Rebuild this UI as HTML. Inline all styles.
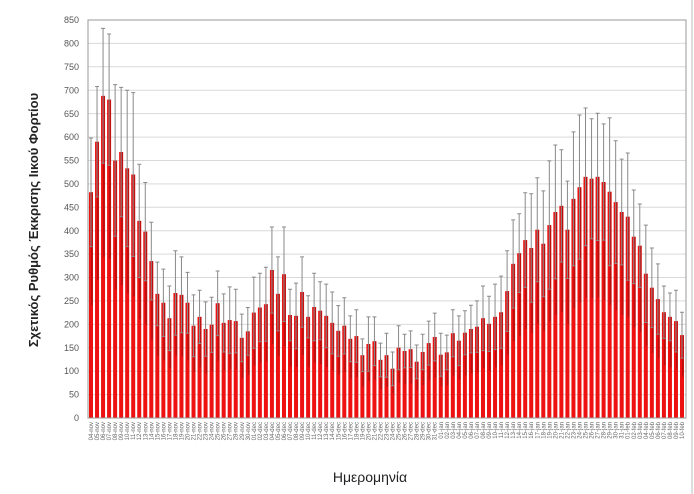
<!DOCTYPE html>
<html><head><meta charset="utf-8"><style>
html,body{margin:0;padding:0;background:#fff;}
svg{display:block;font-family:"Liberation Sans",sans-serif;}
</style></head><body>
<svg id="s" width="694" height="494" viewBox="0 0 694 494">
<rect width="694" height="494" fill="#fff"/>
<line x1="692" y1="0" x2="692" y2="494" stroke="#bbb" stroke-width="1"/>
<g id="grid" stroke="#d9d9d9" stroke-width="1"></g>
<g id="yl" font-size="9" fill="#555" text-anchor="end">
<text x="79" y="421">0</text><text x="79" y="397.6">50</text><text x="79" y="374.2">100</text><text x="79" y="350.8">150</text><text x="79" y="327.4">200</text><text x="79" y="304">250</text><text x="79" y="280.6">300</text><text x="79" y="257.2">350</text><text x="79" y="233.8">400</text><text x="79" y="210.4">450</text><text x="79" y="187">500</text><text x="79" y="163.6">550</text><text x="79" y="140.2">600</text><text x="79" y="116.8">650</text><text x="79" y="93.4">700</text><text x="79" y="70">750</text><text x="79" y="46.6">800</text><text x="79" y="23.2">850</text>
</g>
<path id="bars" fill="#ee1111"/>
<path id="bars2" fill="#b80f0f"/>
<path id="err" stroke="#8a8a8a" stroke-width="1" fill="none"/>
<rect x="88" y="20" width="598" height="398" fill="none" stroke="#999" stroke-width="1"/>
<g id="xl" font-size="6" fill="#666" text-anchor="end">
<text>04-nov</text><text>05-nov</text><text>06-nov</text><text>07-nov</text><text>08-nov</text><text>09-nov</text><text>10-nov</text><text>11-nov</text><text>12-nov</text><text>13-nov</text><text>14-nov</text><text>15-nov</text><text>16-nov</text><text>17-nov</text><text>18-nov</text><text>19-nov</text><text>20-nov</text><text>21-nov</text><text>22-nov</text><text>23-nov</text><text>24-nov</text><text>25-nov</text><text>26-nov</text><text>27-nov</text><text>28-nov</text><text>29-nov</text><text>30-nov</text>
<text>01-dec</text><text>02-dec</text><text>03-dec</text><text>04-dec</text><text>05-dec</text><text>06-dec</text><text>07-dec</text><text>08-dec</text><text>09-dec</text><text>10-dec</text><text>11-dec</text><text>12-dec</text><text>13-dec</text><text>14-dec</text><text>15-dec</text><text>16-dec</text><text>17-dec</text><text>18-dec</text><text>19-dec</text><text>20-dec</text><text>21-dec</text><text>22-dec</text><text>23-dec</text><text>24-dec</text><text>25-dec</text><text>26-dec</text><text>27-dec</text><text>28-dec</text><text>29-dec</text><text>30-dec</text><text>31-dec</text>
<text>01-jan</text><text>02-jan</text><text>03-jan</text><text>04-jan</text><text>05-jan</text><text>06-jan</text><text>07-jan</text><text>08-jan</text><text>09-jan</text><text>10-jan</text><text>11-jan</text><text>12-jan</text><text>13-jan</text><text>14-jan</text><text>15-jan</text><text>16-jan</text><text>17-jan</text><text>18-jan</text><text>19-jan</text><text>20-jan</text><text>21-jan</text><text>22-jan</text><text>23-jan</text><text>24-jan</text><text>25-jan</text><text>26-jan</text><text>27-jan</text><text>28-jan</text><text>29-jan</text><text>30-jan</text><text>31-jan</text>
<text>01-feb</text><text>02-feb</text><text>03-feb</text><text>04-feb</text><text>05-feb</text><text>06-feb</text><text>07-feb</text><text>08-feb</text><text>09-feb</text><text>10-feb</text>
</g>
<text x="0" y="0" transform="translate(38,220) rotate(-90)" text-anchor="middle" font-size="13" font-weight="bold" fill="#222">Σχετικός Ρυθμός Έκκρισης Ιικού Φορτίου</text>
<text x="370" y="482" text-anchor="middle" font-size="14" fill="#222">Ημερομηνία</text>
</svg>
<script>
var d=[[482,598],[590,708],[688,832],[680,820],[550,712],[568,706],[533,700],[520,695],[421,542],[398,503],[335,418],[265,333],[246,318],[213,282],[267,357],[263,344],[246,311],[197,263],[216,273],[190,248],[199,258],[245,314],[203,265],[209,280],[207,275],[171,222],[185,236],[225,301],[236,309],[243,322],[316,408],[265,344],[307,408],[220,275],[218,288],[269,344],[216,261],[237,309],[229,291],[218,286],[203,269],[186,240],[197,257],[169,218],[175,231],[134,169],[158,216],[164,216],[124,160],[134,181],[105,141],[150,197],[143,179],[147,186],[120,156],[141,179],[160,207],[173,224],[135,181],[140,177],[181,231],[165,218],[182,229],[190,241],[195,250],[213,282],[201,260],[216,286],[226,303],[271,357],[329,423],[352,436],[380,481],[363,479],[402,513],[372,485],[412,549],[440,583],[453,573],[402,506],[468,611],[493,647],[515,662],[511,639],[515,651],[504,628],[483,641],[461,592],[440,553],[430,566],[387,487],[368,457],[308,412],[278,363],[254,329],[226,282],[216,267],[207,273],[177,226]];
function Y(v){return 418-v*0.46824;}
var b="",b2="",e="",g="";
for(var k=1;k<17;k++){var yy=Y(k*50).toFixed(1);g+='<line x1="88" x2="686" y1="'+yy+'" y2="'+yy+'"/>';}
document.getElementById('grid').innerHTML=g;
var xs=document.getElementById('xl').children;
for(var i=0;i<d.length;i++){
 var x=91+i*6.0306, t=Y(d[i][0]), et=Y(d[i][1]), eb=Y(Math.max(0,2*d[i][0]-d[i][1]));
 b+="M"+(x-2).toFixed(2)+" "+t.toFixed(1)+"h4V418h-4Z";
 b2+="M"+(x).toFixed(2)+" "+t.toFixed(1)+"h1.6V"+((t+418)/2).toFixed(1)+"h-1.6Z";
 e+="M"+x.toFixed(2)+" "+et.toFixed(1)+"V"+eb.toFixed(1)+"M"+(x-2).toFixed(2)+" "+et.toFixed(1)+"h4M"+(x-1.5).toFixed(2)+" "+eb.toFixed(1)+"h3";
 if(xs[i]) xs[i].setAttribute('transform','translate('+(x+2).toFixed(2)+',422) rotate(-90)');
}
document.getElementById('bars').setAttribute('d',b);
document.getElementById('bars2').setAttribute('d',b2);
document.getElementById('err').setAttribute('d',e);
</script>
</body></html>
